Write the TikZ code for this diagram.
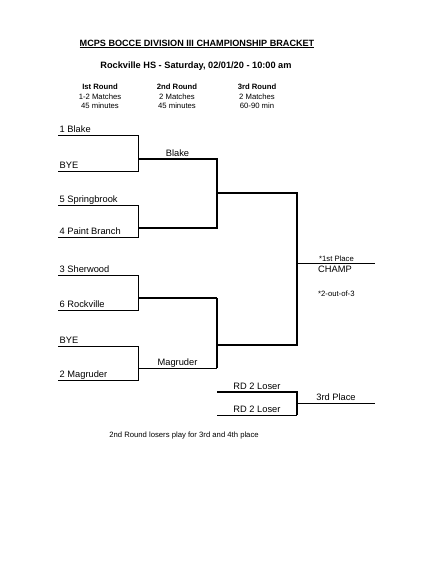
\documentclass[tikz,border=0pt]{standalone}
\usepackage{fontspec}
\setmainfont{Liberation Sans}
\usetikzlibrary{positioning}

\begin{document}
\begin{tikzpicture}[x=1pt, y=-1pt,
  every node/.style={inner sep=1pt},
  title/.style={anchor=base, font=\bfseries\fontsize{9.1}{10}\selectfont},
  subtitle/.style={anchor=base, font=\bfseries\fontsize{9.2}{11}\selectfont},
  head/.style={anchor=north, align=center, font=\fontsize{7.7}{9.3}\selectfont},
  team/.style={anchor=base west, inner sep=1.5pt, font=\fontsize{9.3}{11}\selectfont},
  winner/.style={anchor=base, yshift=2.8pt, font=\fontsize{9.3}{11}\selectfont},
  note/.style={anchor=base west, font=\fontsize{7.7}{9}\selectfont},
  rule/.style={line width=0.8pt},
  heavy/.style={line width=1.7pt}
]
  \fill[white] (0,0) rectangle (426,573);
  \useasboundingbox (0,0) rectangle (426,573);

  % headings
  \node[title] (ttl) at (197,46) {\underline{MCPS BOCCE DIVISION III CHAMPIONSHIP BRACKET}};
  \node[subtitle] (sub) at (196,68) {Rockville HS - Saturday, 02/01/20 - 10:00 am};
  \node[head] (h1) at (100,83) {\textbf{Ist Round}\\1-2 Matches\\45 minutes};
  \node[head] (h2) at (177,83) {\textbf{2nd Round}\\2 Matches\\45 minutes};
  \node[head] (h3) at (257,83) {\textbf{3rd Round}\\2 Matches\\60-90 min};

  % first round lines
  \foreach \y [count=\i] in {135,171,205,237,275,310,346,380} {
    \coordinate (t\i a) at (58,\y);
    \coordinate (t\i b) at (138,\y);
  }
  \node[team] (n1) at ([yshift=2.5pt]t1a) {1 Blake};
  \node[team] (n2) at ([yshift=2.5pt]t2a) {BYE};
  \node[team] (n3) at ([yshift=2.5pt]t3a) {5 Springbrook};
  \node[team] (n4) at ([yshift=2.5pt]t4a) {4 Paint Branch};
  \node[team] (n5) at ([yshift=2.5pt]t5a) {3 Sherwood};
  \node[team] (n6) at ([yshift=2.5pt]t6a) {6 Rockville};
  \node[team] (n7) at ([yshift=2.5pt]t7a) {BYE};
  \node[team] (n8) at ([yshift=2.5pt]t8a) {2 Magruder};
  \draw[rule] (t1a) -- (t1b) -- (t2b) -- (t2a);
  \draw[rule] (t3a) -- (t3b) -- (t4b) -- (t4a);
  \draw[rule] (t5a) -- (t5b) -- (t6b) -- (t6a);
  \draw[rule] (t7a) -- (t7b) -- (t8b) -- (t8a);

  % second round
  \foreach \y [count=\i] in {159,228,298,368} {
    \coordinate (r\i a) at (138,\y);
    \coordinate (r\i b) at (217,\y);
  }
  \draw[heavy] (r1a) -- node[winner] (w1) {Blake} (r1b) -- (r2b) -- (r2a);
  \draw[line width=1.1pt] (r3a) -- (r3b);
  \draw[rule] (r4a) -- node[winner] (w4) {Magruder} (r4b);
  \draw[heavy] (r3b) -- (r4b);

  % final
  \coordinate (s1a) at (217,193); \coordinate (s1b) at (297,193);
  \coordinate (s2a) at (217,345); \coordinate (s2b) at (297,345);
  \coordinate (c1a) at (297,263); \coordinate (c1b) at (375,263);
  \draw[heavy] (s1a) -- (s1b) -- (s2b) -- (s2a);
  \draw[rule] (c1a) -- (c1b);
  \node[note, anchor=base west] (first) at (318,261.5) {*1st Place};
  \node[team, anchor=north west, inner sep=1pt] (champ) at (317,265) {CHAMP};
  \node[note] (bo3) at (317,296) {*2-out-of-3};

  % third place game
  \coordinate (l1a) at (217,392); \coordinate (l1b) at (297,392);
  \coordinate (l2a) at (217,415); \coordinate (l2b) at (297,415);
  \coordinate (p3a) at (297,403); \coordinate (p3b) at (375,403);
  \draw[heavy] (l1a) -- node[winner] (lo1) {RD 2 Loser} (l1b) -- (l2b);
  \draw[rule] (l2b) -- node[winner] (lo2) {RD 2 Loser} (l2a);
  \draw[rule] (p3a) -- node[winner] (third) {3rd Place} (p3b);

  \node[note, anchor=base] (foot) at (184,437) {2nd Round losers play for 3rd and 4th place};
\end{tikzpicture}
\end{document}
